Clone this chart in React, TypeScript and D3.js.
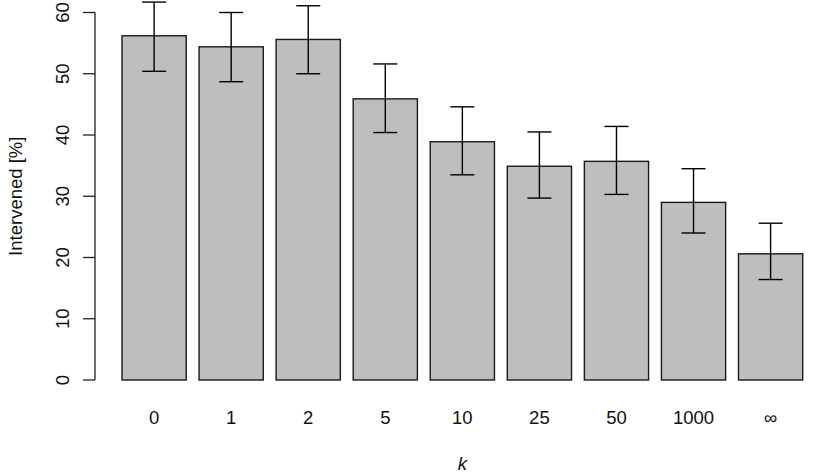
import React from "react";
import * as d3 from "d3";

const categories = ["0", "1", "2", "5", "10", "25", "50", "1000", "∞"];
const means = [56.2, 54.4, 55.6, 45.9, 38.9, 34.9, 35.7, 29.0, 20.6];
const upper = [61.7, 60.0, 61.1, 51.6, 44.6, 40.5, 41.4, 34.5, 25.6];
const lower = [50.4, 48.7, 50.0, 40.4, 33.5, 29.7, 30.3, 24.0, 16.4];
const yTicks = [0, 10, 20, 30, 40, 50, 60];

const W = 830;
const H = 475;
const FONT = "'Liberation Sans', Arial, Helvetica, sans-serif";
const FS = 18.5;

export default function App() {
  const n = categories.length;
  // R barplot user coordinates: bar i spans [0.2 + 1.2 i, 1.2 + 1.2 i]
  const x = d3.scaleLinear().domain([0.2, 0.2 + 1.2 * (n - 1) + 1]).range([122, 802.7]);
  const y = d3.scaleLinear().domain([0, 60]).range([380, 12.5]);
  const left = (i: number) => 0.2 + 1.2 * i;
  const center = (i: number) => left(i) + 0.5;
  const capHalf = 12;
  const axisX = 95;

  return (
    <svg
      width={W}
      height={H}
      style={{ position: "absolute", left: 0, top: 0, background: "#fff" }}
      fontFamily={FONT}
    >
      {means.map((m, i) => (
        <rect
          key={"b" + i}
          x={x(left(i))}
          y={y(m)}
          width={x(left(i) + 1) - x(left(i))}
          height={y(0) - y(m)}
          fill="#bebebe"
          stroke="#1a1a1a"
          strokeWidth={1.4}
        />
      ))}
      {means.map((m, i) => {
        const cx = x(center(i));
        return (
          <g key={"e" + i} stroke="#000" strokeWidth={1.4}>
            <line x1={cx} x2={cx} y1={y(upper[i])} y2={y(lower[i])} />
            <line x1={cx - capHalf} x2={cx + capHalf} y1={y(upper[i])} y2={y(upper[i])} />
            <line x1={cx - capHalf} x2={cx + capHalf} y1={y(lower[i])} y2={y(lower[i])} />
          </g>
        );
      })}
      {/* y axis */}
      <line x1={axisX} x2={axisX} y1={y(0)} y2={y(60)} stroke="#222" strokeWidth={1.3} />
      {yTicks.map((t) => (
        <g key={"t" + t}>
          <line x1={axisX - 12} x2={axisX} y1={y(t)} y2={y(t)} stroke="#222" strokeWidth={1.3} />
          <text
            transform={`translate(${62},${y(t)}) rotate(-90)`}
            textAnchor="middle"
            dominantBaseline="central"
            fontSize={FS}
            fill="#111"
          >
            {t}
          </text>
        </g>
      ))}
      {categories.map((c, i) => (
        <text
          key={"c" + i}
          x={x(center(i))}
          y={417}
          textAnchor="middle"
          dominantBaseline="central"
          fontSize={FS}
          fill="#111"
        >
          {c}
        </text>
      ))}
      <text
        x={(x.range()[0] + x.range()[1]) / 2}
        y={463}
        textAnchor="middle"
        dominantBaseline="central"
        fontSize={FS}
        fontStyle="italic"
        fill="#111"
      >
        k
      </text>
      <text
        transform={`translate(${15},${(y(0) + y(60)) / 2}) rotate(-90)`}
        textAnchor="middle"
        dominantBaseline="central"
        fontSize={FS}
        fill="#111"
      >
        Intervened [%]
      </text>
    </svg>
  );
}
